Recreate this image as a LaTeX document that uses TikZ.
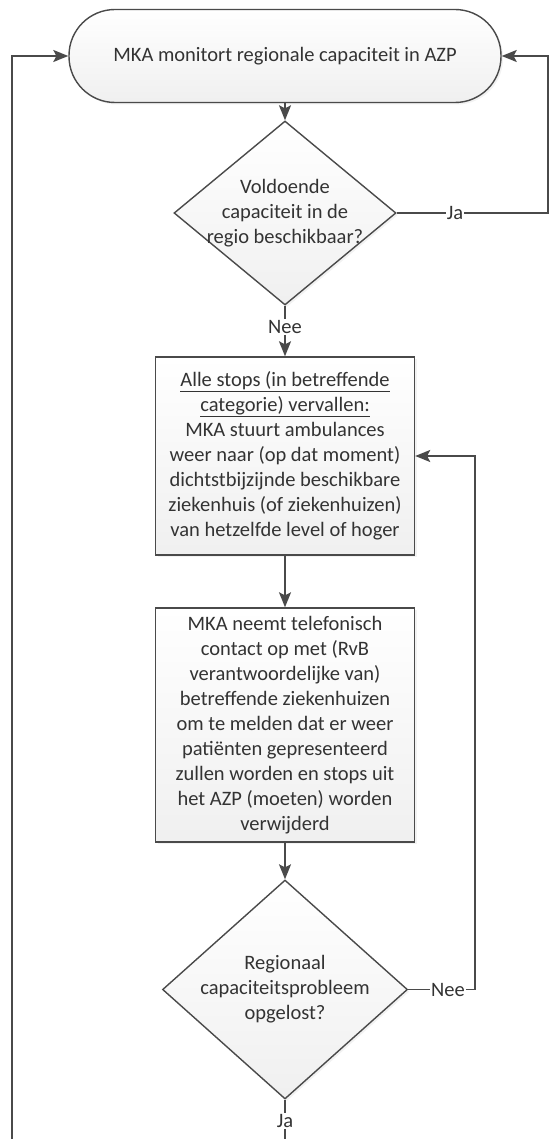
\documentclass[tikz,border=0pt]{standalone}
\usepackage{fontspec}
\setmainfont{Carlito}
\usetikzlibrary{shapes.geometric,arrows.meta,shadows}
\definecolor{linec}{HTML}{4A4A4A}
\definecolor{txtc}{HTML}{333333}
\tikzset{
  base/.style={draw=linec, line width=1.4pt, top color=white, bottom color=black!6,
    drop shadow={opacity=0.10, shadow xshift=2pt, shadow yshift=-2pt}},
  term/.style={base, rounded corners=46pt, minimum width=432pt, minimum height=93pt, inner sep=0pt},
  proc/.style={base, rectangle, minimum width=259pt, inner sep=0pt},
  dia/.style={base, diamond, inner sep=0pt},
  txt/.style={text=txtc, align=center, font=\fontsize{20.5}{25}\selectfont},
  lbl/.style={txt, fill=white, inner sep=1pt},
  conn/.style={draw=linec, line width=1.4pt},
  arr/.style={conn, -{Stealth[length=15pt,width=12pt,inset=3pt]}}
}
\begin{document}
\begin{tikzpicture}[x=1pt,y=-1pt]
\useasboundingbox (0,0) rectangle (553,1139);
\fill[white] (0,0) rectangle (553,1139);

\node[term, txt] (start) at (285,56) {MKA monitort regionale capaciteit in AZP};

\node[dia, minimum width=222pt, minimum height=184pt] (d1) at (285,213) {};
\node[txt] (d1t) at (d1.center) {Voldoende\\capaciteit in de\\regio beschikbaar?};

\node[lbl] (nee1) at (285,327) {Nee};

\node[proc, minimum height=198pt] (box1) at (285,456) {};
\node[txt] (box1t) at (box1.center) {\underline{Alle stops (in betreffende}\\\underline{categorie) vervallen:}\\MKA stuurt ambulances\\weer naar (op dat moment)\\dichtstbijzijnde beschikbare\\ziekenhuis (of ziekenhuizen)\\van hetzelfde level of hoger};

\node[proc, minimum height=234pt] (box2) at (285,725) {};
\node[txt] (box2t) at (box2.center) {MKA neemt telefonisch\\contact op met (RvB\\verantwoordelijke van)\\betreffende ziekenhuizen\\om te melden dat er weer\\patiënten gepresenteerd\\zullen worden en stops uit\\het AZP (moeten) worden\\verwijderd};

\node[dia, minimum width=245pt, minimum height=219pt] (d2) at (285,989.5) {};
\node[txt] (d2t) at (d2.center) {Regionaal\\capaciteitsprobleem\\opgelost?};

\node[lbl] (ja1) at (455,213) {Ja};
\node[lbl] (nee2) at (448,989.5) {Nee};
\node[lbl] (ja2) at (285,1121) {Ja};

\coordinate (cr) at (548,213);
\coordinate (cn) at (475,989.5);
\coordinate (bl) at (12,1139);
\coordinate (bm) at (285,1139);

\draw[arr] (start.south) -- (d1.north);
\draw[conn] (d1.south) -- (nee1.north);
\draw[arr] (nee1.south) -- (box1.north);
\draw[arr] (box1.south) -- (box2.north);
\draw[arr] (box2.south) -- (d2.north);
\draw[conn] (d1.east) -- (ja1.west);
\draw[arr] (ja1.east) -- (cr) |- (start.east);
\draw[conn] (d2.east) -- (nee2.west);
\draw[arr] (nee2.east) -- (cn) |- (box1.east);
\draw[conn] (d2.south) -- (ja2.north);
\draw[conn] (ja2.south) -- (bm);
\draw[arr] (bl) |- (start.west);
\end{tikzpicture}
\end{document}
